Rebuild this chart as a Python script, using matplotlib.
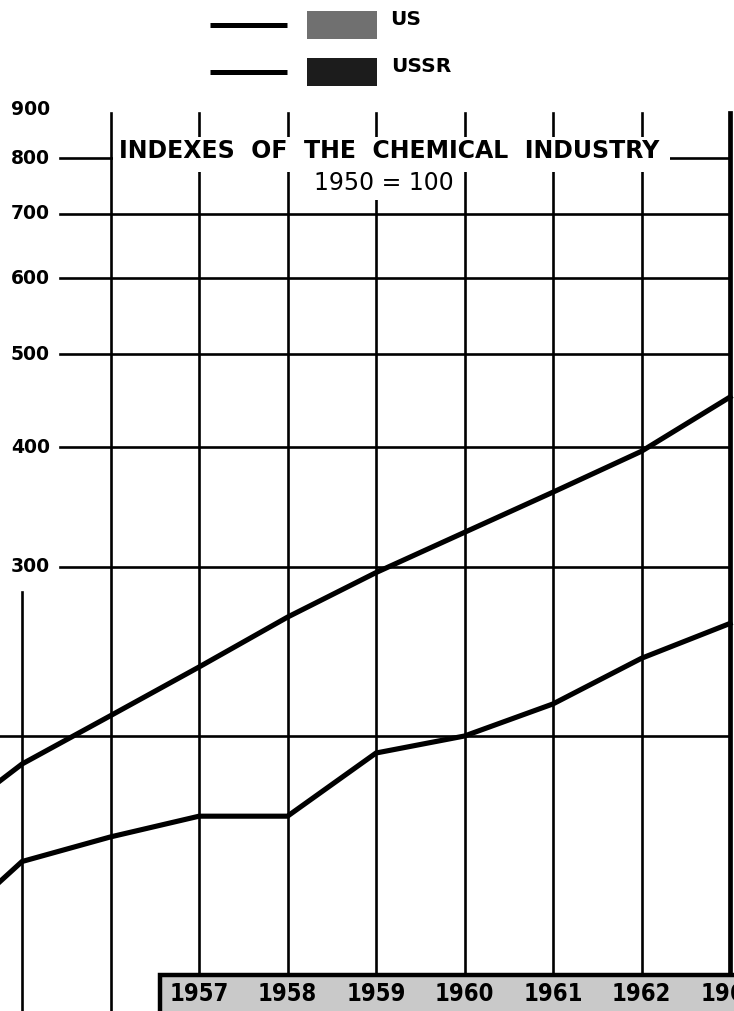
import matplotlib
matplotlib.use("Agg")
import matplotlib.pyplot as plt
from matplotlib import font_manager
from matplotlib.patches import Rectangle

# index values, 1950 = 100
years = [1954, 1955, 1956, 1957, 1958, 1959, 1960, 1961, 1962, 1963]
ussr_index = [159, 187, 210, 236, 266, 296, 326, 359, 396, 451]
us_index = [122, 148, 157, 165, 165, 192, 200, 216, 241, 262]

grid_values = [200, 300, 400, 500, 600, 700, 800]
ytick_labels = [300, 400, 500, 600, 700, 800, 900]
grid_years = [1955, 1956, 1957, 1958, 1959, 1960, 1961, 1962, 1963]
bar_years = [1957, 1958, 1959, 1960, 1961, 1962, 1963]

W, H = 734, 1011


def fx(px):
    return px / W


def fy(py):
    return 1 - py / H


# pick a narrow face for the year strip if one is around
narrow = None
for f in font_manager.fontManager.ttflist:
    if f.name == "Liberation Sans Narrow":
        narrow = dict(family="Liberation Sans Narrow", fontsize=20)
        break
    if f.name == "DejaVu Sans" and "ondensed" in f.fname and "Bold" in f.fname:
        narrow = dict(family="DejaVu Sans", fontstretch="condensed", fontsize=17)
if narrow is None:
    narrow = dict(family="DejaVu Sans", fontsize=14)

fig = plt.figure(figsize=(W / 100, H / 100), dpi=100)
ax = fig.add_axes([0, 0, 1, 1])
ax.set_yscale("log")
ax.set_xlim(1954.751, 1963.045)
ax.set_ylim(103.4, 1169)
ax.axis("off")

# horizontal grid
for v in grid_values:
    x0 = 0 if v == 200 else fx(60)
    ax.axhline(v, xmin=x0, xmax=fx(730), color="black", lw=1.9, zorder=1)

# vertical grid
for yr in grid_years:
    top = fy(592) if yr == 1955 else fy(113)
    lw = 3.4 if yr == 1963 else 1.9
    ax.axvline(yr, ymin=0, ymax=top, color="black", lw=lw, zorder=1)

# y labels
ytr = ax.get_yaxis_transform()
for v in ytick_labels:
    ax.text(fx(50), v, str(v), transform=ytr, ha="right", va="center",
            fontsize=13.5, fontweight="bold", color="black", zorder=4)

# title block
ax.add_patch(Rectangle((fx(113), fy(172)), fx(670) - fx(113), fy(137) - fy(172),
                       transform=ax.transAxes, facecolor="white", edgecolor="none", zorder=3))
ax.add_patch(Rectangle((fx(310), fy(200)), fx(458) - fx(310), fy(168) - fy(200),
                       transform=ax.transAxes, facecolor="white", edgecolor="none", zorder=3))
ax.text(fx(119), fy(151), "INDEXES  OF  THE  CHEMICAL  INDUSTRY", transform=ax.transAxes,
        ha="left", va="center", fontsize=17, fontweight="bold", zorder=4)
ax.text(fx(384), fy(183), "1950 = 100", transform=ax.transAxes,
        ha="center", va="center", fontsize=17, zorder=4)

# series
ax.plot(years, ussr_index, color="black", lw=3.7, solid_joinstyle="miter", zorder=5)
ax.plot(years, us_index, color="black", lw=3.7, solid_joinstyle="miter", zorder=5)

# legend
for py, c, name, tx in [(25, "#707070", "US", 390), (72, "#1c1c1c", "USSR", 391)]:
    ax.plot([fx(210), fx(287)], [fy(py), fy(py)], transform=ax.transAxes,
            color="black", lw=3.6, solid_capstyle="butt", clip_on=False)
    ax.add_patch(Rectangle((fx(307), fy(py + 14)), fx(377) - fx(307), fy(py - 14) - fy(py + 14),
                           transform=ax.transAxes, facecolor=c, edgecolor="none"))
    ax.text(fx(tx), fy(py - 5), name, transform=ax.transAxes, ha="left", va="center",
            fontsize=14.5, fontweight="bold")

# year strip along the bottom
ax.add_patch(Rectangle((fx(160), fy(H + 10)), fx(W + 20) - fx(160), fy(975) - fy(H + 10),
                       transform=ax.transAxes, facecolor="#c9c9c9", edgecolor="black",
                       lw=3.2, zorder=6, clip_on=False))
xtr = ax.get_xaxis_transform()
for yr in bar_years:
    ax.text(yr, fy(994), str(yr), transform=xtr, ha="center", va="center",
            fontweight="bold", zorder=7, **narrow)

fig.savefig("out.png", dpi=100)
